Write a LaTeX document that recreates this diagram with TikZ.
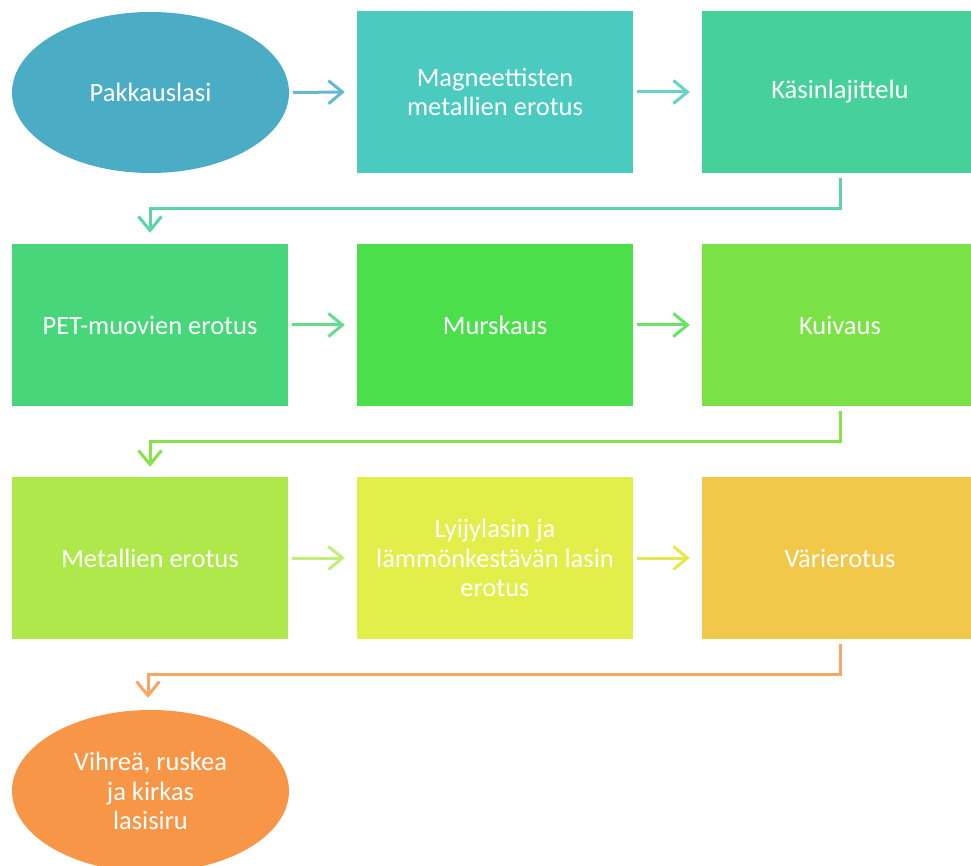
\documentclass[tikz,border=0pt]{standalone}
\usepackage{fontspec}
\setmainfont{Carlito}
\usetikzlibrary{arrows.meta,shapes.geometric}
\definecolor{c1}{HTML}{4BACC6}
\definecolor{c2}{HTML}{4BCBC0}
\definecolor{c3}{HTML}{47D19A}
\definecolor{c4}{HTML}{47D67A}
\definecolor{c5}{HTML}{4CDF4C}
\definecolor{c6}{HTML}{7AE247}
\definecolor{c7}{HTML}{AEE84A}
\definecolor{c8}{HTML}{E2EE4A}
\definecolor{c9}{HTML}{F2C84A}
\definecolor{c10}{HTML}{F79646}
\tikzset{
  x=1pt,y=-1pt,
  txt/.style={text=white,font=\fontsize{26.5}{29.5}\selectfont,align=center},
  boxn/.style={txt,draw=none,minimum width=276pt,minimum height=162pt,inner sep=0pt},
  ell/.style={boxn,ellipse},
  arr/.style={line width=3pt,-{Straight Barb[length=14pt,width=23pt,line width=3pt]}},
}
\begin{document}
\begin{tikzpicture}
\useasboundingbox (0,0) rectangle (971,866);
\fill[white] (0,0) rectangle (971,866);
\node[ell,fill=c1,minimum width=277pt,minimum height=161pt] (n1) at (150.5,92.5) {Pakkauslasi};
\node[boxn,fill=c2] (n2) at (495,92) {Magneettisten\\metallien erotus};
\node[boxn,fill=c3] (n3) at (840,92) {};
\node[txt] at (840,92) {Käsinlajittelu};
\node[boxn,fill=c4] (n4) at (150,325) {PET-muovien erotus};
\node[boxn,fill=c5] (n5) at (495,325) {Murskaus};
\node[boxn,fill=c6] (n6) at (840,325) {};
\node[txt] at (840,325) {Kuivaus};
\node[boxn,fill=c7] (n7) at (150,558) {Metallien erotus};
\node[boxn,fill=c8] (n8) at (495,558) {Lyijylasin ja\\lämmönkestävän lasin\\erotus};
\node[boxn,fill=c9] (n9) at (840,558) {};
\node[txt] at (840,558) {Värierotus};
\node[ell,fill=c10,minimum width=277pt,minimum height=162pt] (n10) at (150.5,791) {Vihreä, ruskea\\ja kirkas\\lasisiru};
% horizontal arrows
\draw[arr,draw=c1!85!white] ([xshift=4pt]n1.east) -- ([xshift=-12pt]n2.west);
\draw[arr,draw=c2!85!white] ([xshift=4pt]n2.east) -- ([xshift=-12pt]n3.west);
\draw[arr,draw=c4!85!white] ([xshift=4pt]n4.east) -- ([xshift=-12pt]n5.west);
\draw[arr,draw=c5!85!white] ([xshift=4pt]n5.east) -- ([xshift=-12pt]n6.west);
\draw[arr,draw=c7!75!white] ([xshift=4pt]n7.east) -- ([xshift=-12pt]n8.west);
\draw[arr,draw=c8!85!c9] ([xshift=4pt]n8.east) -- ([xshift=-12pt]n9.west);
% return connectors
\draw[arr,draw=c3!90!white] ([yshift=-5pt]n3.south) -- ++(0,30) -| ([yshift=11pt]n4.north);
\draw[arr,draw=c6!75!c7] ([yshift=-5pt]n6.south) -- ++(0,30) -| ([yshift=10pt]n7.north);
\draw[arr,draw=c10!85!white] ([yshift=-5pt]n9.south) -- ++(0,30) -| ([xshift=-2.5pt,yshift=12pt]n10.north);
\end{tikzpicture}
\end{document}
